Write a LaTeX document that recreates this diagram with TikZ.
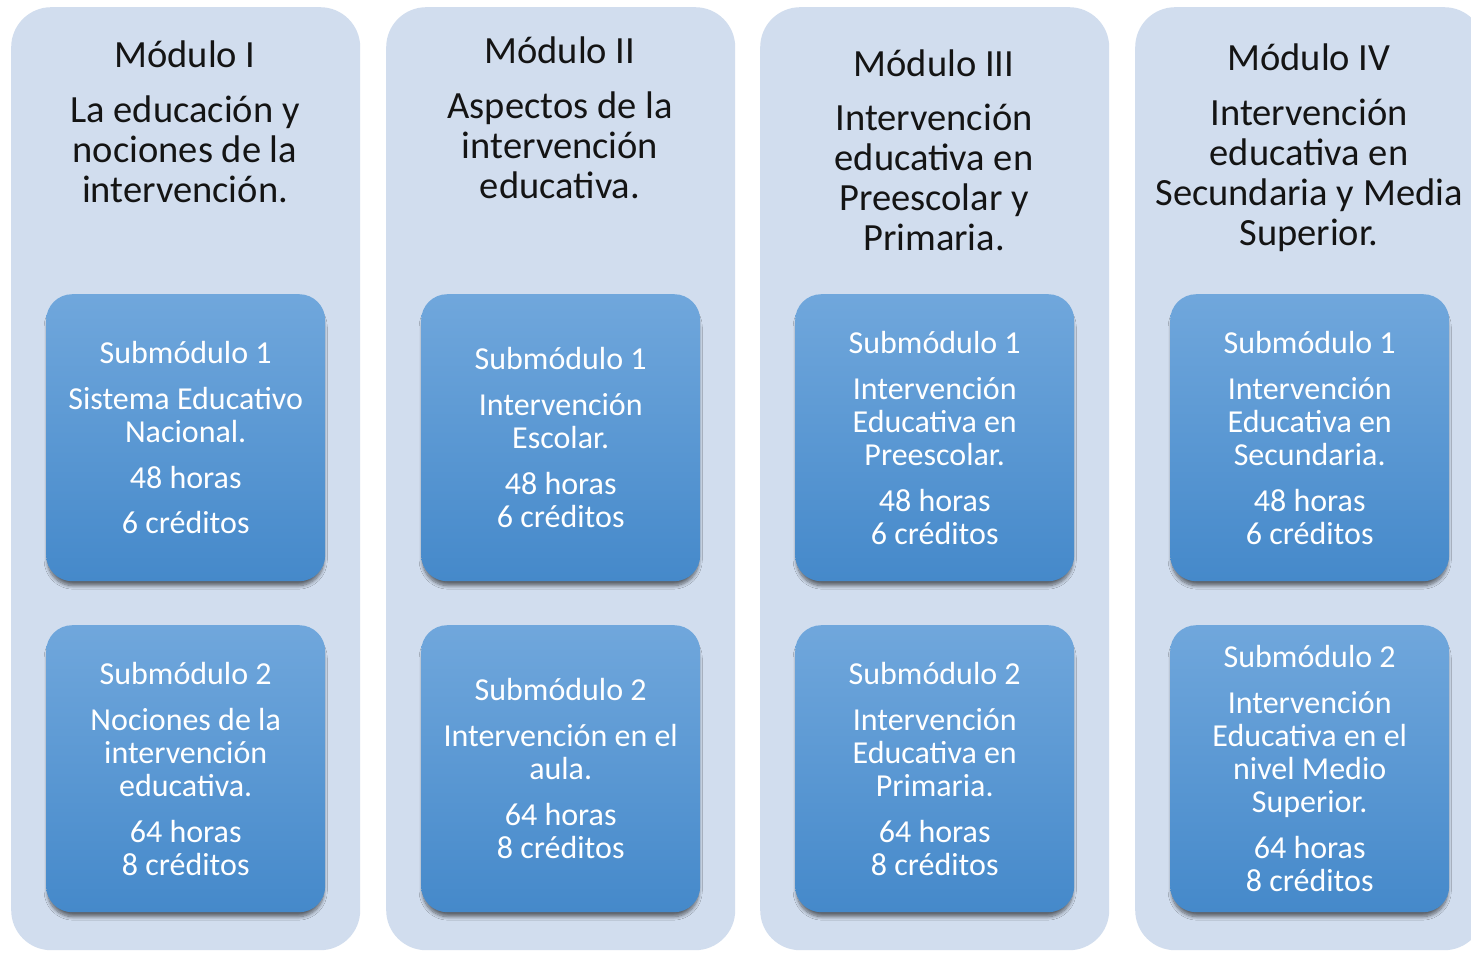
\documentclass[tikz,border=0pt]{standalone}
\usepackage{fontspec}
\setmainfont{Carlito}
\usetikzlibrary{shadows.blur}
\definecolor{panelc}{HTML}{D1DDEE}
\definecolor{boxtop}{HTML}{70A7DC}
\definecolor{boxbot}{HTML}{4589CA}
\definecolor{titlec}{HTML}{141414}
\tikzset{
  panel/.style={fill=panelc, draw=none, rounded corners=40pt, minimum width=349pt, minimum height=943pt, anchor=north west, inner sep=0pt},
  subbox/.style={top color=boxtop, bottom color=boxbot, draw=none, rounded corners=26pt, minimum width=279pt, minimum height=287pt, anchor=north west, inner sep=0pt,
    blur shadow={shadow xshift=0pt, shadow yshift=-6pt, shadow blur radius=3.5pt, shadow blur steps=8, shadow opacity=55, shadow scale=0.99}},
  ttl/.style={text=titlec, align=center, font=\fontsize{38.5}{40}\selectfont, inner sep=0pt},
  btxt/.style={text=white, align=center, font=\fontsize{32}{33}\selectfont, inner sep=0pt}
}
\begin{document}
\begin{tikzpicture}[x=1pt,y=-1pt]
\useasboundingbox (0,0) rectangle (1471,953);
\clip (0,0) rectangle (1471,953);
\fill[white] (0,0) rectangle (1471,953);
% panels
\node[panel] (p1) at (11,7) {};
\node[panel] (p2) at (386,7) {};
\node[panel] (p3) at (760,7) {};
\node[panel] (p4) at (1135,7) {};
% titles
\node[ttl] (t1) at (185,122) {Módulo I\\[15pt]La educación y\\nociones de la\\intervención.};
\node[ttl] (t2) at (560,118) {Módulo II\\[15pt]Aspectos de la\\intervención\\educativa.};
\node[ttl] (t3) at (934,150) {Módulo III\\[14pt]Intervención\\educativa en\\Preescolar y\\Primaria.};
\node[ttl] (t4) at (1309,148) {Módulo IV\\[15pt]Intervención\\educativa en\\Secundaria y Media\\Superior.};
% submodule boxes
\node[subbox] (b11) at (46,294) {};
\node[subbox] (b12) at (46,625) {};
\node[subbox] (b21) at (421,294) {};
\node[subbox] (b22) at (421,625) {};
\node[subbox] (b31) at (795,294) {};
\node[subbox] (b32) at (795,625) {};
\node[subbox] (b41) at (1170,294) {};
\node[subbox] (b42) at (1170,625) {};
% box texts
\node[btxt] (x11) at (b11.center) {Submódulo 1\\[13pt]Sistema Educativo\\Nacional.\\[13pt]48 horas\\[12pt]6 créditos};
\node[btxt] (x12) at (b12.center) {Submódulo 2\\[13pt]Nociones de la\\intervención\\educativa.\\[13pt]64 horas\\8 créditos};
\node[btxt] (x21) at (b21.center) {Submódulo 1\\[13pt]Intervención\\Escolar.\\[13pt]48 horas\\6 créditos};
\node[btxt] (x22) at (b22.center) {Submódulo 2\\[13pt]Intervención en el\\aula.\\[13pt]64 horas\\8 créditos};
\node[btxt] (x31) at (b31.center) {Submódulo 1\\[13pt]Intervención\\Educativa en\\Preescolar.\\[13pt]48 horas\\6 créditos};
\node[btxt] (x32) at (b32.center) {Submódulo 2\\[13pt]Intervención\\Educativa en\\Primaria.\\[13pt]64 horas\\8 créditos};
\node[btxt] (x41) at (b41.center) {Submódulo 1\\[13pt]Intervención\\Educativa en\\Secundaria.\\[13pt]48 horas\\6 créditos};
\node[btxt] (x42) at (b42.center) {Submódulo 2\\[13pt]Intervención\\Educativa en el\\nivel Medio\\Superior.\\[13pt]64 horas\\8 créditos};
\end{tikzpicture}
\end{document}
